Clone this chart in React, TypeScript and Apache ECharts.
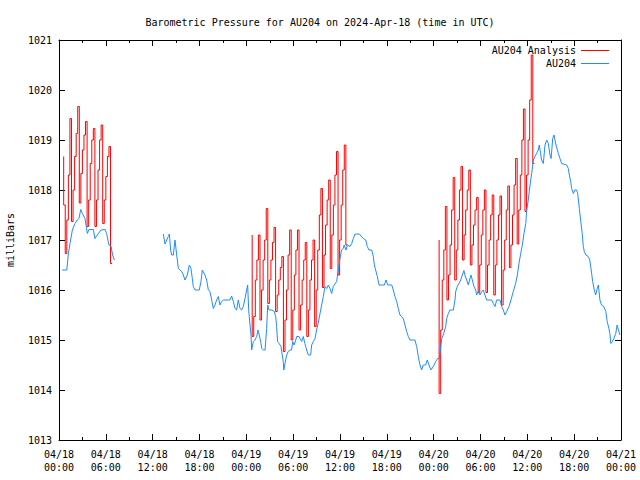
import React, { useEffect, useRef } from "react";
import * as echarts from "echarts";

// ---- data ----
const titleText = "Barometric Pressure for AU204 on 2024-Apr-18 (time in UTC)";
const seriesNames = ["AU204 Analysis", "AU204"];
const yTicks = [1013, 1014, 1015, 1016, 1017, 1018, 1019, 1020, 1021];
const xHours = [0, 6, 12, 18, 24, 30, 36, 42, 48, 54, 60, 66, 72];
const xTickLabels = [
  "04/18\n00:00", "04/18\n06:00", "04/18\n12:00", "04/18\n18:00",
  "04/19\n00:00", "04/19\n06:00", "04/19\n12:00", "04/19\n18:00",
  "04/20\n00:00", "04/20\n06:00", "04/20\n12:00", "04/20\n18:00",
  "04/21\n00:00",
];

// Analysis (red): start hour, step (h), values
const analysisStart = [0.6, 24.75, 48.7];
const analysisStep = 0.2;
const analysis1 = [
  1018.67, 1017.7, 1016.73, 1017.4, 1018.3,
  1019.43, 1017.37, 1018.0, 1018.67, 1019.13,
  1019.67, 1017.74, 1018.33, 1018.8, 1019.1,
  1019.37, 1017.27, 1017.8, 1018.53, 1019.0,
  1019.23, 1017.27, 1017.8, 1018.4, 1019.0,
  1019.3, 1017.33, 1017.8, 1018.27, 1018.67,
  1018.87, 1016.53,
];
const analysis2 = [
  1017.1, 1015.07, 1015.47, 1016.2, 1016.6,
  1017.1, 1015.4, 1016.0, 1016.6, 1017.0,
  1017.63, 1015.73, 1016.2, 1016.6, 1016.95,
  1017.25, 1015.57, 1015.9, 1016.2, 1016.45,
  1016.67, 1014.77, 1015.4, 1016.0, 1016.7,
  1017.2, 1015.0, 1015.6, 1016.3, 1016.8,
  1017.2, 1015.2, 1015.7, 1016.2, 1016.6,
  1016.95, 1015.07, 1015.6, 1016.2, 1016.6,
  1017.0, 1015.27, 1016.0, 1016.8, 1017.5,
  1018.03, 1016.05, 1016.7, 1017.3, 1017.8,
  1018.2, 1016.43, 1017.1, 1017.7, 1018.3,
  1018.77, 1016.3, 1017.0, 1017.7, 1018.4,
  1018.9, 1016.9,
];
const analysis3 = [
  1017.0, 1013.93, 1015.2, 1016.2, 1016.8,
  1017.67, 1015.8, 1016.3, 1016.9, 1017.6,
  1018.25, 1016.2, 1016.8, 1017.4, 1018.0,
  1018.47, 1016.6, 1017.1, 1017.6, 1018.0,
  1018.4, 1016.5, 1016.9, 1017.3, 1017.6,
  1017.85, 1015.95, 1016.5, 1017.1, 1017.6,
  1018.0, 1015.95, 1016.5, 1017.0, 1017.5,
  1017.9, 1015.9, 1016.5, 1017.0, 1017.5,
  1017.88, 1015.7, 1016.4, 1017.0, 1017.6,
  1018.08, 1016.45, 1016.9, 1017.5, 1018.1,
  1018.63, 1016.92, 1017.6, 1018.3, 1019.0,
  1019.62, 1017.57, 1018.3, 1019.0, 1019.8,
  1020.7, 1018.53,
];

// Observations (blue): [hour, mbar]
const obs1: number[][] = [
  [0.4, 1016.4], [1.0, 1016.4], [1.2, 1016.73], [1.41, 1016.93], [1.71, 1017.2],
  [2.05, 1017.33], [2.35, 1017.4], [2.56, 1017.43], [2.78, 1017.61], [2.99, 1017.53],
  [3.33, 1017.43], [3.63, 1017.13], [3.84, 1017.21], [4.4, 1017.21], [4.6, 1017.03],
  [4.9, 1017.1], [5.38, 1017.2], [5.9, 1017.21], [6.1, 1017.13], [6.4, 1016.9],
  [6.66, 1016.88], [6.87, 1016.7], [7.09, 1016.6],
];
const obs2: number[][] = [
  [13.36, 1017.12], [13.58, 1016.92], [14.0, 1017.07], [14.14, 1017.12], [14.3, 1016.8],
  [14.43, 1016.7], [14.65, 1016.7], [14.86, 1017.0], [15.08, 1016.7], [15.29, 1016.43],
  [15.5, 1016.4], [15.72, 1016.37], [15.93, 1016.3], [16.14, 1016.2], [16.44, 1016.3],
  [16.7, 1016.5], [16.91, 1016.43], [17.08, 1016.23], [17.2, 1016.07], [17.42, 1016.0],
  [17.97, 1016.0], [18.19, 1016.17], [18.36, 1016.4], [18.7, 1016.3], [18.92, 1016.2],
  [19.13, 1016.0], [19.34, 1015.97], [19.56, 1015.8], [19.77, 1015.63], [19.98, 1015.7],
  [20.2, 1015.8], [20.41, 1015.87], [20.62, 1015.7], [20.84, 1015.77], [21.05, 1015.8],
  [21.9, 1015.8], [22.12, 1015.88], [22.33, 1015.77], [22.55, 1015.63], [22.76, 1015.6],
  [22.97, 1015.8], [23.19, 1015.63], [23.4, 1015.6], [23.61, 1015.67], [23.83, 1015.83],
  [24.04, 1016.0], [24.17, 1016.1], [24.3, 1015.6], [24.47, 1015.3], [24.6, 1015.1],
  [24.68, 1014.8], [24.9, 1014.97], [25.1, 1015.0], [25.33, 1015.07], [25.5, 1015.2],
  [25.75, 1015.03], [25.88, 1014.93], [25.97, 1014.83], [26.17, 1014.8], [26.4, 1014.8],
  [26.6, 1015.23], [26.74, 1015.7], [26.9, 1015.6], [27.25, 1015.6], [27.58, 1015.57],
  [27.76, 1015.47], [27.88, 1015.27], [28.0, 1014.97], [28.2, 1014.93], [28.44, 1014.87],
  [28.6, 1014.7], [28.73, 1014.57], [28.8, 1014.4], [28.95, 1014.53], [29.17, 1014.7],
  [29.37, 1014.77], [29.6, 1014.8], [29.8, 1014.8], [29.94, 1014.97], [30.1, 1014.9],
  [30.3, 1014.98], [30.45, 1015.07], [30.75, 1015.07], [31.1, 1014.97], [31.3, 1015.07],
  [31.5, 1014.93], [31.73, 1014.8], [31.94, 1014.7], [32.24, 1014.7], [32.37, 1014.9],
  [32.58, 1014.97], [32.8, 1015.03], [33.0, 1015.2], [33.2, 1015.33], [33.44, 1015.53],
  [33.65, 1015.7], [33.86, 1015.87], [34.08, 1016.07], [34.3, 1016.03], [34.5, 1016.1],
  [34.72, 1016.03], [34.93, 1015.93], [35.14, 1016.07], [35.57, 1016.17], [35.78, 1016.4],
  [36.0, 1016.63], [36.2, 1016.8], [36.43, 1016.83], [36.52, 1016.9], [36.77, 1016.8],
  [36.94, 1016.9], [37.28, 1016.87], [37.5, 1016.93], [37.7, 1017.03], [37.92, 1017.12],
  [38.47, 1017.12], [38.98, 1017.03], [39.3, 1017.0], [39.5, 1016.87], [39.71, 1016.8],
  [40.06, 1016.8], [40.27, 1016.67], [40.4, 1016.5], [40.57, 1016.4], [40.78, 1016.27],
  [41.0, 1016.1], [41.34, 1016.1], [41.68, 1016.1], [41.9, 1016.2], [42.12, 1016.1],
  [42.63, 1016.1], [42.83, 1016.0], [43.04, 1015.87], [43.26, 1015.77], [43.47, 1015.63],
  [43.68, 1015.5], [43.9, 1015.47], [44.1, 1015.43], [44.33, 1015.3], [44.54, 1015.17],
  [44.75, 1015.07], [44.96, 1015.0], [45.6, 1015.0], [45.82, 1014.87], [46.03, 1014.67],
  [46.25, 1014.5], [46.46, 1014.4], [46.67, 1014.5], [46.97, 1014.5], [47.18, 1014.6],
  [47.4, 1014.5], [47.66, 1014.4], [47.95, 1014.47], [48.26, 1014.57], [48.5, 1014.63],
  [48.7, 1014.63], [48.85, 1014.8], [49.03, 1015.03], [49.23, 1015.1], [49.54, 1015.27],
  [49.67, 1015.43], [49.88, 1015.53], [50.09, 1015.6], [50.52, 1015.6], [50.73, 1015.8],
  [50.82, 1015.97], [51.03, 1016.07], [51.24, 1016.13], [51.46, 1016.2], [51.67, 1016.3],
  [51.88, 1016.39], [52.0, 1016.3], [52.23, 1016.2], [52.44, 1016.1], [52.6, 1016.2],
  [52.78, 1016.3], [52.95, 1016.2], [53.16, 1016.07], [53.38, 1016.0], [53.5, 1015.9],
  [53.7, 1015.97], [53.93, 1015.9], [54.15, 1015.97], [54.36, 1016.0], [54.57, 1015.9],
  [54.79, 1015.8], [55.43, 1015.8], [55.64, 1015.73], [55.86, 1015.67], [56.07, 1015.8],
  [56.5, 1015.8], [56.71, 1015.67], [56.92, 1015.6], [57.14, 1015.5], [57.35, 1015.57],
  [57.65, 1015.67], [57.9, 1015.8], [58.2, 1015.97], [58.5, 1016.13], [58.72, 1016.3],
  [58.93, 1016.53], [59.15, 1016.73], [59.36, 1016.9], [59.57, 1017.13], [59.8, 1017.33],
  [59.9, 1017.57], [60.12, 1017.8], [60.25, 1017.97], [60.43, 1018.2], [60.56, 1018.33],
  [60.76, 1018.6], [60.98, 1018.67], [61.19, 1018.73], [61.4, 1018.8], [61.53, 1018.9],
  [61.7, 1018.73], [61.83, 1018.6], [62.05, 1018.53], [62.26, 1018.9], [62.48, 1019.0],
  [62.69, 1018.93], [62.9, 1018.7], [63.05, 1018.63], [63.25, 1019.03], [63.41, 1019.1],
  [63.67, 1018.9], [63.97, 1018.73], [64.18, 1018.63], [64.4, 1018.53], [65.04, 1018.5],
  [65.25, 1018.43], [65.38, 1018.3], [65.55, 1018.17], [65.68, 1018.03], [65.9, 1017.93],
  [66.1, 1018.0], [66.32, 1018.0], [66.45, 1017.93], [66.66, 1017.63], [66.83, 1017.4],
  [67.03, 1017.13], [67.17, 1016.87], [67.3, 1016.77], [67.5, 1016.7], [67.8, 1016.67],
  [68.0, 1016.6], [68.24, 1016.33], [68.37, 1016.17], [68.58, 1016.0], [68.75, 1015.9],
  [68.96, 1016.03], [69.1, 1016.1], [69.3, 1015.8], [69.5, 1015.7], [69.8, 1015.67],
  [70.05, 1015.57], [70.23, 1015.37], [70.45, 1015.23], [70.57, 1015.13], [70.7, 1014.93],
  [70.9, 1014.97], [71.08, 1015.03], [71.33, 1015.13], [71.5, 1015.3], [71.68, 1015.2],
  [71.85, 1015.1],
];

const FONT = "DejaVu Sans Mono";
const RED = "#ff0000";
const BLUE = "#1e8cff";

function analysisSeg(si: number): number[][] {
  const vals = [analysis1, analysis2, analysis3][si];
  return vals.map((v, i) => [+(analysisStart[si] + i * analysisStep).toFixed(3), v]);
}

function buildObs(): (number | string)[][] {
  return [...obs1, [10, "-"], ...obs2];
}

export default function App() {
  const ref = useRef<HTMLDivElement>(null);
  useEffect(() => {
    if (!ref.current) return;
    const chart = echarts.init(ref.current, undefined, { renderer: "svg" });
    const labelMap: Record<number, string> = {};
    xHours.forEach((h, i) => (labelMap[h] = xTickLabels[i]));
    const xBase = {
      type: "value" as const,
      min: 0,
      max: 72,
      interval: 6,
      splitLine: { show: false },
      axisLine: { show: true, onZero: false, lineStyle: { color: "#000", width: 1 } },
      axisTick: { show: true, inside: true, length: 6, lineStyle: { color: "#000" } },
      minorTick: { show: true, splitNumber: 2, length: 3, lineStyle: { color: "#000" } },
    };
    const yBase = {
      type: "value" as const,
      min: yTicks[0],
      max: yTicks[yTicks.length - 1],
      interval: 1,
      splitLine: { show: false },
      axisLine: { show: true, onZero: false, lineStyle: { color: "#000", width: 1 } },
      axisTick: { show: true, inside: true, length: 6, lineStyle: { color: "#000" } },
    };
    const redSeries = [0, 1, 2].map((si) => ({
      name: seriesNames[0],
      type: "line",
      data: analysisSeg(si),
      symbol: "none",
      step: "start",
      color: RED,
      lineStyle: { color: RED, width: 1 },
      itemStyle: { color: RED },
    }));
    chart.setOption({
      animation: false,
      backgroundColor: "#fff",
      title: {
        text: titleText,
        left: "center",
        top: 12,
        textStyle: { fontFamily: FONT, fontSize: 10, fontWeight: "normal", color: "#000" },
      },
      legend: {
        orient: "vertical",
        right: 31,
        top: 44,
        padding: 0,
        align: "right",
        icon: "rect",
        itemWidth: 28,
        itemHeight: 1,
        itemGap: 0,
        textStyle: { fontFamily: FONT, fontSize: 10, color: "#000", lineHeight: 13 },
        data: [
          { name: seriesNames[0], itemStyle: { color: RED } },
          { name: seriesNames[1], itemStyle: { color: BLUE } },
        ],
      },
      grid: { left: 59, right: 19, top: 40, bottom: 40, outerBoundsMode: "none", containLabel: false },
      xAxis: [
        {
          ...xBase,
          position: "bottom",
          axisLabel: {
            fontFamily: FONT,
            fontSize: 10,
            color: "#000",
            lineHeight: 13,
            margin: 8,
            formatter: (v: number) => labelMap[v] ?? "",
          },
        },
        { ...xBase, position: "top", axisLabel: { show: false } },
      ],
      yAxis: [
        {
          ...yBase,
          position: "left",
          name: "milliBars",
          nameLocation: "middle",
          nameRotate: 90,
          nameGap: 44,
          nameTextStyle: { fontFamily: FONT, fontSize: 10, color: "#000" },
          axisLabel: {
            fontFamily: FONT,
            fontSize: 10,
            color: "#000",
            margin: 7,
            formatter: (v: number) => String(v),
          },
        },
        { ...yBase, position: "right", axisLabel: { show: false } },
      ],
      series: [
        ...redSeries,
        {
          name: seriesNames[1],
          type: "line",
          data: buildObs(),
          symbol: "none",
          connectNulls: false,
          color: BLUE,
          lineStyle: { color: BLUE, width: 1 },
          itemStyle: { color: BLUE },
        },
      ],
    });
    return () => chart.dispose();
  }, []);
  return <div ref={ref} style={{ width: 640, height: 480, position: "absolute", left: 0, top: 0 }} />;
}
